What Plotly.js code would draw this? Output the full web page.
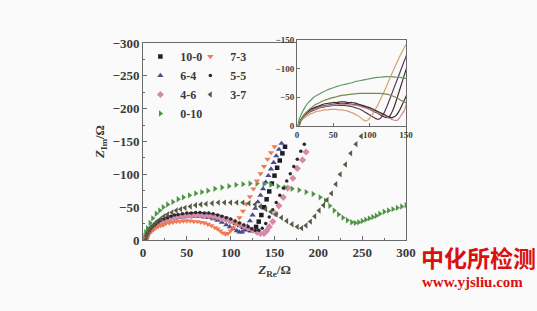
<!DOCTYPE html>
<html>
<head>
<meta charset="utf-8">
<script src="https://cdn.plot.ly/plotly-3.0.1.min.js"></script>
<style>html,body{margin:0;padding:0;background:#fafafa;}#chart{width:537px;height:311px;}</style>
</head>
<body>
<div id="chart"></div>
<script>
// Series names
const names = ["10-0", "7-3", "6-4", "5-5", "4-6", "3-7", "0-10"];

// Z_Re (Ω) and Z_Im (Ω, negative)
const zre_10_0 = [3,4,5,7,9,11,14,17,20,24,28,32,36,40,45,50,55,60,65,70,75,80,85,90,95,100,105,110,114,118,122,126,129,132,135,138,141,144,147,150,153,156,159,162];
const zim_10_0 = [0,-5,-10,-14,-17,-20,-23,-26,-28,-30,-32,-34,-35,-36,-37,-38,-39,-39,-39,-39,-38,-37,-36,-34,-32,-29,-26,-23,-20,-17,-15,-15,-20,-28,-38,-50,-62,-74,-86,-98,-110,-121,-132,-142];

const zre_7_3 = [3,4,5,6,8,10,12,14,17,20,23,26,30,34,38,42,46,50,54,58,62,66,70,74,78,82,85,88,91,94,97,100,103,106,110,114,118,122,126,130,134,138,142,146,150];
const zim_7_3 = [0,-4,-7,-9,-12,-14,-16,-18,-20,-22,-23,-25,-26,-27,-28,-28,-29,-29,-29,-28,-28,-27,-26,-24,-22,-19,-17,-14,-11,-9,-10,-14,-19,-25,-34,-44,-55,-66,-78,-90,-101,-112,-123,-133,-142];

const zre_6_4 = [3,4,5,7,9,11,14,17,20,24,28,32,36,40,45,50,55,60,65,70,75,80,85,90,95,99,103,107,110,113,116,119,122,125,128,131,134,137,140,143,146,149,152,155,158];
const zim_6_4 = [0,-5,-9,-12,-15,-18,-21,-24,-26,-28,-30,-32,-33,-34,-35,-36,-36,-36,-36,-35,-34,-32,-30,-27,-23,-20,-17,-14,-12,-12,-15,-21,-29,-38,-48,-58,-68,-78,-88,-98,-108,-118,-128,-138,-147];

const zre_5_5 = [3,4,5,7,9,11,14,17,20,24,28,32,36,40,45,50,55,60,65,70,75,80,85,90,95,100,105,110,115,120,124,128,132,136,140,144,148,152,156,160,164,168,172,176,180,184];
const zim_5_5 = [0,-6,-10,-14,-18,-21,-24,-27,-30,-32,-34,-36,-38,-39,-40,-41,-41,-42,-42,-41,-41,-40,-38,-36,-34,-32,-29,-26,-23,-20,-17,-15,-15,-18,-25,-35,-46,-57,-68,-79,-90,-101,-112,-123,-135,-146];

const zre_4_6 = [3,4,5,7,9,11,14,17,20,24,28,32,36,40,45,50,55,60,65,70,75,80,85,90,95,100,105,110,115,120,125,130,134,138,141,144,148,151,155,160,165,171,176,182,186];
const zim_4_6 = [0,-5,-9,-13,-16,-19,-22,-25,-27,-29,-31,-33,-34,-35,-36,-37,-37,-38,-38,-37,-37,-36,-35,-33,-31,-29,-27,-24,-21,-18,-15,-12,-10,-10,-14,-20,-28,-40,-52,-65,-79,-94,-109,-122,-134];

const zre_3_7 = [3,4,6,8,10,13,16,20,24,28,33,38,43,48,54,60,66,72,79,86,93,100,107,114,121,128,134,140,146,152,158,164,170,176,181,186,191,196,201,206,210,215,220,225,231,237,243,249];
const zim_3_7 = [0,-6,-11,-16,-20,-24,-28,-32,-36,-39,-42,-45,-47,-49,-51,-53,-54,-55,-56,-57,-57,-57,-57,-57,-56,-54,-51,-47,-43,-39,-34,-29,-24,-20,-18,-22,-28,-36,-45,-53,-61,-71,-85,-100,-115,-132,-146,-158];

const zre_0_10 = [1,2,3,5,8,11,15,19,23,28,34,40,46,53,60,67,74,82,90,98,106,114,122,130,138,146,154,162,170,178,186,194,202,208,213,218,223,228,233,238,242,246,250,254,258,262,266,270,275,280,285,290,295,300];
const zim_0_10 = [0,-6,-12,-18,-26,-33,-40,-45,-50,-54,-58,-62,-65,-68,-71,-73,-75,-78,-80,-82,-84,-85,-86,-86,-85,-84,-82,-80,-78,-76,-73,-70,-65,-60,-52,-45,-39,-34,-30,-27,-26,-27,-29,-31,-33,-35,-37,-40,-43,-45,-47,-49,-51,-53];

// Axis ticks
const mainTicks = [0, -50, -100, -150, -200, -250, -300];
const xTicks = [0, 50, 100, 150, 200, 250, 300];
const insetTicks = [0, 50, 100, 150];
const insetYTicks = [0, -50, -100, -150];

const series = [
  {name: "10-0", x: zre_10_0, y: zim_10_0, color: "#1c1c28", line: "#4a2a2a", symbol: "square", size: 4.5, legend: "legend"},
  {name: "6-4", x: zre_6_4, y: zim_6_4, color: "#4b4a8e", line: "#5a3a5a", symbol: "triangle-up", size: 5.5, legend: "legend"},
  {name: "4-6", x: zre_4_6, y: zim_4_6, color: "#d58aa8", line: "#c88a9a", symbol: "diamond", size: 5.5, legend: "legend"},
  {name: "0-10", x: zre_0_10, y: zim_0_10, color: "#4f9444", line: "#5e9a6a", symbol: "triangle-right", size: 5.5, legend: "legend"},
  {name: "7-3", x: zre_7_3, y: zim_7_3, color: "#ee7a55", line: "#d8a070", symbol: "triangle-down", size: 5.5, legend: "legend2"},
  {name: "5-5", x: zre_5_5, y: zim_5_5, color: "#2a2a2a", line: "#3a2a2a", symbol: "circle", size: 3.5, legend: "legend2"},
  {name: "3-7", x: zre_3_7, y: zim_3_7, color: "#5a5a48", line: "#7a8a50", symbol: "triangle-left", size: 5.5, legend: "legend2"}
];

const traces = [];
series.forEach(s => {
  traces.push({
    type: "scatter", mode: "markers", name: s.name, x: s.x, y: s.y,
    marker: {color: s.color, symbol: s.symbol, size: s.size},
    legend: s.legend, xaxis: "x", yaxis: "y"
  });
});
series.forEach(s => {
  traces.push({
    type: "scatter", mode: "lines", name: s.name + " (inset)", x: s.x, y: s.y,
    line: {color: s.line, width: 1.2, shape: "spline"},
    showlegend: false, xaxis: "x2", yaxis: "y2", hoverinfo: "skip"
  });
});

const tickFont = {family: "Liberation Serif, Times New Roman, serif", size: 13, color: "#3a3a3a", weight: "bold"};
const smallFont = {family: "Liberation Serif, Times New Roman, serif", size: 9, color: "#3a3a3a", weight: "bold"};
const axisCommon = {showgrid: false, zeroline: false, showline: true, linecolor: "#6a6a6a", linewidth: 1, mirror: true, ticks: "inside", ticklen: 4, tickcolor: "#6a6a6a"};

const layout = {
  width: 537, height: 311,
  margin: {l: 143, r: 131, t: 40, b: 71, autoexpand: false},
  paper_bgcolor: "#fafafa", plot_bgcolor: "#fafafa",
  showlegend: true,
  xaxis: Object.assign({}, axisCommon, {
    domain: [0, 1], range: [0, 300], tickvals: xTicks, tickfont: tickFont,
    minor: {dtick: 25, ticks: "inside", ticklen: 2, tickcolor: "#6a6a6a"},
    title: {text: "<i>Z</i><sub>Re</sub>/Ω", font: {family: "Liberation Serif, serif", size: 13, color: "#3a3a3a", weight: "bold"}, standoff: 6},
    anchor: "y"
  }),
  yaxis: Object.assign({}, axisCommon, {
    domain: [0, 0.985], range: [0, -300], tickvals: mainTicks, tickfont: tickFont,
    minor: {dtick: 25, ticks: "inside", ticklen: 2, tickcolor: "#6a6a6a"},
    title: {text: "<i>Z</i><sub>Im</sub>/Ω", font: {family: "Liberation Serif, serif", size: 13, color: "#3a3a3a", weight: "bold"}, standoff: 4},
    anchor: "x"
  }),
  xaxis2: Object.assign({}, axisCommon, {
    domain: [0.5856, 1], range: [0, 150], tickvals: insetTicks, tickfont: smallFont,
    ticklen: 3, anchor: "y2"
  }),
  yaxis2: Object.assign({}, axisCommon, {
    domain: [0.57, 1], range: [0, -150], tickvals: insetYTicks, tickfont: smallFont,
    ticklen: 3, anchor: "x2"
  }),
  legend: {x: -0.01, y: 0.99, xanchor: "left", yanchor: "top", bgcolor: "rgba(0,0,0,0)",
    font: {family: "Liberation Serif, serif", size: 12, color: "#3a3a3a", weight: "bold"}, tracegroupgap: 0},
  legend2: {x: 0.18, y: 0.99, xanchor: "left", yanchor: "top", bgcolor: "rgba(0,0,0,0)",
    font: {family: "Liberation Serif, serif", size: 12, color: "#3a3a3a", weight: "bold"}, tracegroupgap: 0},
  annotations: [
    {text: "<b>中化所检测</b>", xref: "paper", yref: "paper", x: 1.05, y: 0.01, xanchor: "left", yanchor: "top", showarrow: false,
      font: {family: "Noto Sans CJK SC", size: 23, color: "#d81010"}},
    {text: "<b>www.yjsliu.com</b>", xref: "paper", yref: "paper", x: 1.055, y: -0.16, xanchor: "left", yanchor: "top", showarrow: false,
      font: {family: "Liberation Serif, serif", size: 15, color: "#d81010"}}
  ]
};

Plotly.newPlot("chart", traces, layout, {displayModeBar: false, staticPlot: true});
</script>
</body>
</html>
